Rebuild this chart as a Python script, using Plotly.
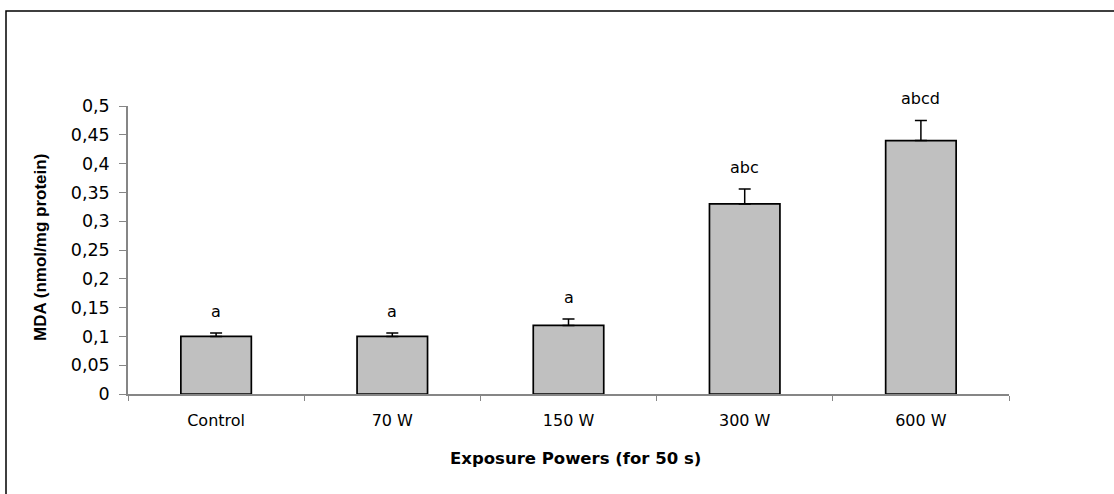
import plotly.graph_objects as go

categories = ["Control", "70 W", "150 W", "300 W", "600 W"]
mda_values = [0.100, 0.100, 0.119, 0.330, 0.440]
mda_errors = [0.006, 0.006, 0.011, 0.026, 0.035]
sig_letters = ["a", "a", "a", "abc", "abcd"]
y_tick_vals = [0, 0.05, 0.1, 0.15, 0.2, 0.25, 0.3, 0.35, 0.4, 0.45, 0.5]
y_tick_text = ["0", "0,05", "0,1", "0,15", "0,2", "0,25", "0,3", "0,35", "0,4", "0,45", "0,5"]

W, H = 1114, 494
ML, MR, MT, MB = 128, 105, 106, 100
pw, ph = W - ML - MR, H - MT - MB

FONT = "DejaVu Sans, sans-serif"
FONT_B = "Liberation Sans, Arial, sans-serif"

fig = go.Figure()
fig.add_trace(go.Bar(
    x=categories, y=mda_values,
    marker=dict(color="#C0C0C0", line=dict(color="#000000", width=1.7)),
    error_y=dict(type="data", array=mda_errors, symmetric=False,
                 arrayminus=[0] * len(mda_errors),
                 color="#000000", thickness=1.5, width=6),
    showlegend=False,
))

for c, v, e, t in zip(categories, mda_values, mda_errors, sig_letters):
    fig.add_annotation(x=c, y=v + e, text=t, showarrow=False,
                       yanchor="bottom", yshift=10,
                       font=dict(family=FONT, size=16, color="#000000"))

# axis titles
fig.add_annotation(xref="paper", yref="paper",
                   x=(575 - ML) / pw, y=(H - MB - 458) / ph,
                   xanchor="center", yanchor="middle", showarrow=False,
                   text="<b>Exposure Powers (for 50 s)</b>",
                   font=dict(family=FONT, size=16.5, color="#000000"))
fig.add_annotation(xref="paper", yref="paper",
                   x=(40 - ML) / pw, y=(H - MB - 248) / ph,
                   xanchor="center", yanchor="middle", showarrow=False,
                   textangle=-90,
                   text="<b>MDA (nmol/mg protein)</b>",
                   font=dict(family=FONT_B, size=17, color="#000000"))

# outer frame (only left and top edges visible in the reference)
fig.add_shape(type="rect", xref="paper", yref="paper",
              x0=(6 - ML) / pw, x1=3, y0=-3, y1=(H - MB - 11) / ph,
              line=dict(color="#000000", width=1.5), layer="above")

fig.update_layout(
    width=W, height=H,
    margin=dict(l=ML, r=MR, t=MT, b=MB, pad=0),
    paper_bgcolor="#FFFFFF", plot_bgcolor="#FFFFFF",
    bargap=0.6,
    font=dict(family=FONT, color="#000000"),
    xaxis=dict(
        showline=True, linecolor="#868686", linewidth=1.5,
        ticks="outside", tickson="boundaries", ticklen=5, tickcolor="#868686", tickwidth=1,
        tickfont=dict(family=FONT, size=16, color="#000000"),
        ticklabelstandoff=11,
        showgrid=False, zeroline=False,
    ),
    yaxis=dict(
        range=[0, 0.5],
        tickvals=y_tick_vals, ticktext=y_tick_text,
        showline=True, linecolor="#868686", linewidth=1.5,
        ticks="outside", ticklen=7, tickcolor="#868686", tickwidth=1,
        tickfont=dict(family=FONT, size=17.5, color="#000000"),
        ticklabelstandoff=6,
        showgrid=False, zeroline=False,
    ),
)

fig.write_html("out.html", config={"displayModeBar": False},
               post_script="document.body.style.margin='0px';")
